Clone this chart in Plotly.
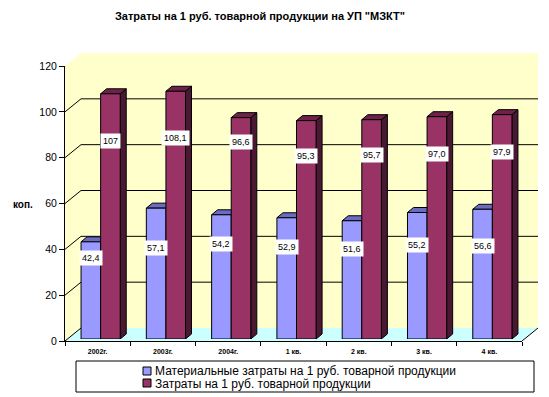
import plotly.graph_objects as go

# ---------------- data ----------------
categories = ["2002г.", "2003г.", "2004г.", "1 кв.", "2 кв.", "3 кв.", "4 кв."]
material_costs = [42.4, 57.1, 54.2, 52.9, 51.6, 55.2, 56.6]
total_costs = [107.0, 108.1, 96.6, 95.3, 95.7, 97.0, 97.9]
material_label_text = ["42,4", "57,1", "54,2", "52,9", "51,6", "55,2", "56,6"]
total_label_text = ["107", "108,1", "96,6", "95,3", "95,7", "97,0", "97,9"]
series_names = ["Материальные затраты на 1 руб. товарной продукции",
                "Затраты на 1 руб. товарной продукции"]
y_ticks = [0, 20, 40, 60, 80, 100, 120]

# label placement (value-axis heights where the Excel labels were dragged)
material_label_at = [35.3, 39.7, 41.6, 40.3, 39.4, 41.1, 40.6]
total_label_at = [86.4, 87.6, 86.1, 79.8, 80.3, 80.9, 81.4]

# ---------------- styles / geometry ----------------
W, H = 549, 397
FONT = "Arial, Liberation Sans, sans-serif"
BLUE, BLUE_TOP = "#9999FF", "#6B6BC0"
RED, RED_TOP, RED_SIDE = "#993366", "#6E2248", "#4A1832"
WALL, FLOOR = "#FFFFCC", "#CCFFFF"


def X(px):
    return px / W


def Y(py):
    return 1 - py / H


# front plane of the axes box (pixels)
L, R, T, B = 65, 522, 66, 341
DX, DY = 16, 13          # wall depth offset in pixels
BOFF_X, BOFF_Y = 3, 2    # bars sit slightly behind the front plane
n = len(categories)
ymax = 120
ppu_y = (B - T) / ymax
ppu_x = (R - L) / n
dyu = DY / ppu_y
bar_ddx = 6 / ppu_x
bar_ddy = 5 / ppu_y
half = 0.3

fig = go.Figure()
idx = list(range(n))
fig.add_trace(go.Bar(x=idx, y=material_costs, name=series_names[0],
                     marker=dict(color=BLUE, line=dict(color="black", width=1)),
                     xaxis="x2", yaxis="y2", showlegend=False, hoverinfo="y"))
fig.add_trace(go.Bar(x=idx, y=total_costs, name=series_names[1],
                     marker=dict(color=RED, line=dict(color="black", width=1)),
                     xaxis="x2", yaxis="y2", showlegend=False, hoverinfo="y"))

shapes = []
# side wall
shapes.append(dict(type="path", xref="paper", yref="paper", layer="below",
                   path=f"M{X(L)},{Y(T)} L{X(L+DX)},{Y(T-DY)} L{X(L+DX)},{Y(B-DY)} L{X(L)},{Y(B)} Z",
                   fillcolor=WALL, line=dict(width=0)))
# back wall
shapes.append(dict(type="rect", xref="paper", yref="paper", layer="below",
                   x0=X(L+DX), x1=X(R+DX), y0=Y(B-DY), y1=Y(T-DY),
                   fillcolor=WALL, line=dict(width=0)))
# floor
shapes.append(dict(type="path", xref="paper", yref="paper", layer="below",
                   path=f"M{X(L)},{Y(B)} L{X(R)},{Y(B)} L{X(R+DX)},{Y(B-DY)} L{X(L+DX)},{Y(B-DY)} Z",
                   fillcolor=FLOOR, line=dict(width=0)))
# grid lines: diagonal on side wall + horizontal on back wall
for v in y_ticks:
    shapes.append(dict(type="line", xref="paper", yref="y", layer="below",
                       x0=X(L), x1=X(L+DX), y0=v, y1=v+dyu,
                       line=dict(color="black", width=1)))
    if v > 0:
        shapes.append(dict(type="line", xref="paper", yref="y", layer="below",
                           x0=X(L+DX), x1=X(R+DX), y0=v+dyu, y1=v+dyu,
                           line=dict(color="black", width=1)))
# right floor edge
shapes.append(dict(type="line", xref="paper", yref="y", layer="below",
                   x0=X(R), x1=X(R+DX), y0=0, y1=dyu,
                   line=dict(color="black", width=1)))

# 3-D faces of bars
for i, (vb, vr) in enumerate(zip(material_costs, total_costs)):
    xl, xr = i - half, i
    shapes.append(dict(type="path", xref="x2", yref="y2", layer="below",
                       path=f"M{xl},{vb} L{xl+bar_ddx},{vb+bar_ddy} L{xr+bar_ddx},{vb+bar_ddy} L{xr},{vb} Z",
                       fillcolor=BLUE_TOP, line=dict(color="black", width=1)))
    xl, xr = i, i + half
    shapes.append(dict(type="path", xref="x2", yref="y2", layer="below",
                       path=f"M{xr},0 L{xr+bar_ddx},{bar_ddy} L{xr+bar_ddx},{vr+bar_ddy} L{xr},{vr} Z",
                       fillcolor=RED_SIDE, line=dict(color="black", width=1)))
    shapes.append(dict(type="path", xref="x2", yref="y2", layer="below",
                       path=f"M{xl},{vr} L{xl+bar_ddx},{vr+bar_ddy} L{xr+bar_ddx},{vr+bar_ddy} L{xr},{vr} Z",
                       fillcolor=RED_TOP, line=dict(color="black", width=1)))

# legend box + swatches
shapes.append(dict(type="rect", xref="paper", yref="paper", layer="above",
                   x0=X(76), x1=X(534), y0=Y(392), y1=Y(361),
                   fillcolor="white", line=dict(color="black", width=1)))
shapes.append(dict(type="rect", xref="paper", yref="paper", layer="above",
                   x0=X(143), x1=X(151), y0=Y(375), y1=Y(367),
                   fillcolor=BLUE, line=dict(color="black", width=1)))
shapes.append(dict(type="rect", xref="paper", yref="paper", layer="above",
                   x0=X(143), x1=X(151), y0=Y(387), y1=Y(379),
                   fillcolor=RED, line=dict(color="black", width=1)))

annotations = []
for i in range(n):
    annotations.append(dict(x=i - half / 2, y=material_label_at[i], xref="x2", yref="y2",
                            text=material_label_text[i], showarrow=False,
                            xanchor="center", yanchor="middle",
                            bgcolor="white", borderpad=2,
                            font=dict(family=FONT, size=9, color="black")))
    annotations.append(dict(x=i + half / 2, y=total_label_at[i], xref="x2", yref="y2",
                            text=total_label_text[i], showarrow=False,
                            xanchor="center", yanchor="middle",
                            bgcolor="white", borderpad=2,
                            font=dict(family=FONT, size=9, color="black")))
annotations.append(dict(x=X(23), y=Y(204), xref="paper", yref="paper", text="<b>коп.</b>",
                        xanchor="center", yanchor="middle",
                        showarrow=False, font=dict(family=FONT, size=10, color="black")))
annotations.append(dict(x=X(153), y=Y(371), xref="paper", yref="paper", text=series_names[0],
                        xanchor="left", yanchor="middle", showarrow=False,
                        font=dict(family=FONT, size=12, color="black")))
annotations.append(dict(x=X(153), y=Y(384), xref="paper", yref="paper", text=series_names[1],
                        xanchor="left", yanchor="middle", showarrow=False,
                        font=dict(family=FONT, size=12, color="black")))

fig.update_layout(
    width=W, height=H,
    margin=dict(l=0, r=0, t=0, b=0, pad=0, autoexpand=False),
    paper_bgcolor="white", plot_bgcolor="rgba(0,0,0,0)",
    title=dict(text="<b>Затраты на 1 руб. товарной продукции на УП \"МЗКТ\"</b>",
               x=X(260), y=Y(16), xanchor="center", yanchor="middle",
               font=dict(family=FONT, size=11, color="black")),
    barmode="group", bargap=0.4, bargroupgap=0,
    showlegend=False,
    xaxis=dict(domain=[X(L), X(R)], type="category", categoryarray=categories,
               range=[-0.5, n - 0.5], tickson="boundaries", ticks="outside", ticklen=4,
               tickcolor="black", showline=True, linecolor="black", linewidth=1,
               showgrid=False, zeroline=False, fixedrange=True, automargin=False,
               ticklabelstandoff=4,
               tickfont=dict(family=FONT, size=7, color="black", weight="bold")),
    yaxis=dict(domain=[Y(B), Y(T)], range=[0, ymax], tickvals=y_ticks,
               ticks="outside", ticklen=5, tickcolor="black",
               showline=True, linecolor="black", linewidth=1,
               showgrid=False, zeroline=False, fixedrange=True, automargin=False,
               tickfont=dict(family=FONT, size=10.5, color="black")),
    xaxis2=dict(domain=[X(L + BOFF_X), X(R + BOFF_X)], range=[-0.5, n - 0.5],
                visible=False, anchor="y2", fixedrange=True, automargin=False),
    yaxis2=dict(domain=[Y(B - BOFF_Y), Y(T - BOFF_Y)], range=[0, ymax],
                visible=False, anchor="x2", fixedrange=True, automargin=False),
    shapes=shapes, annotations=annotations,
)
# category trace to show front x-axis labels
fig.add_trace(go.Scatter(x=categories, y=[None] * n, xaxis="x", yaxis="y",
                         mode="markers", showlegend=False, hoverinfo="skip"))

fig.write_html("out.html", config={"displayModeBar": False},
               post_script="document.body.style.margin='0';document.body.style.overflow='hidden';")
